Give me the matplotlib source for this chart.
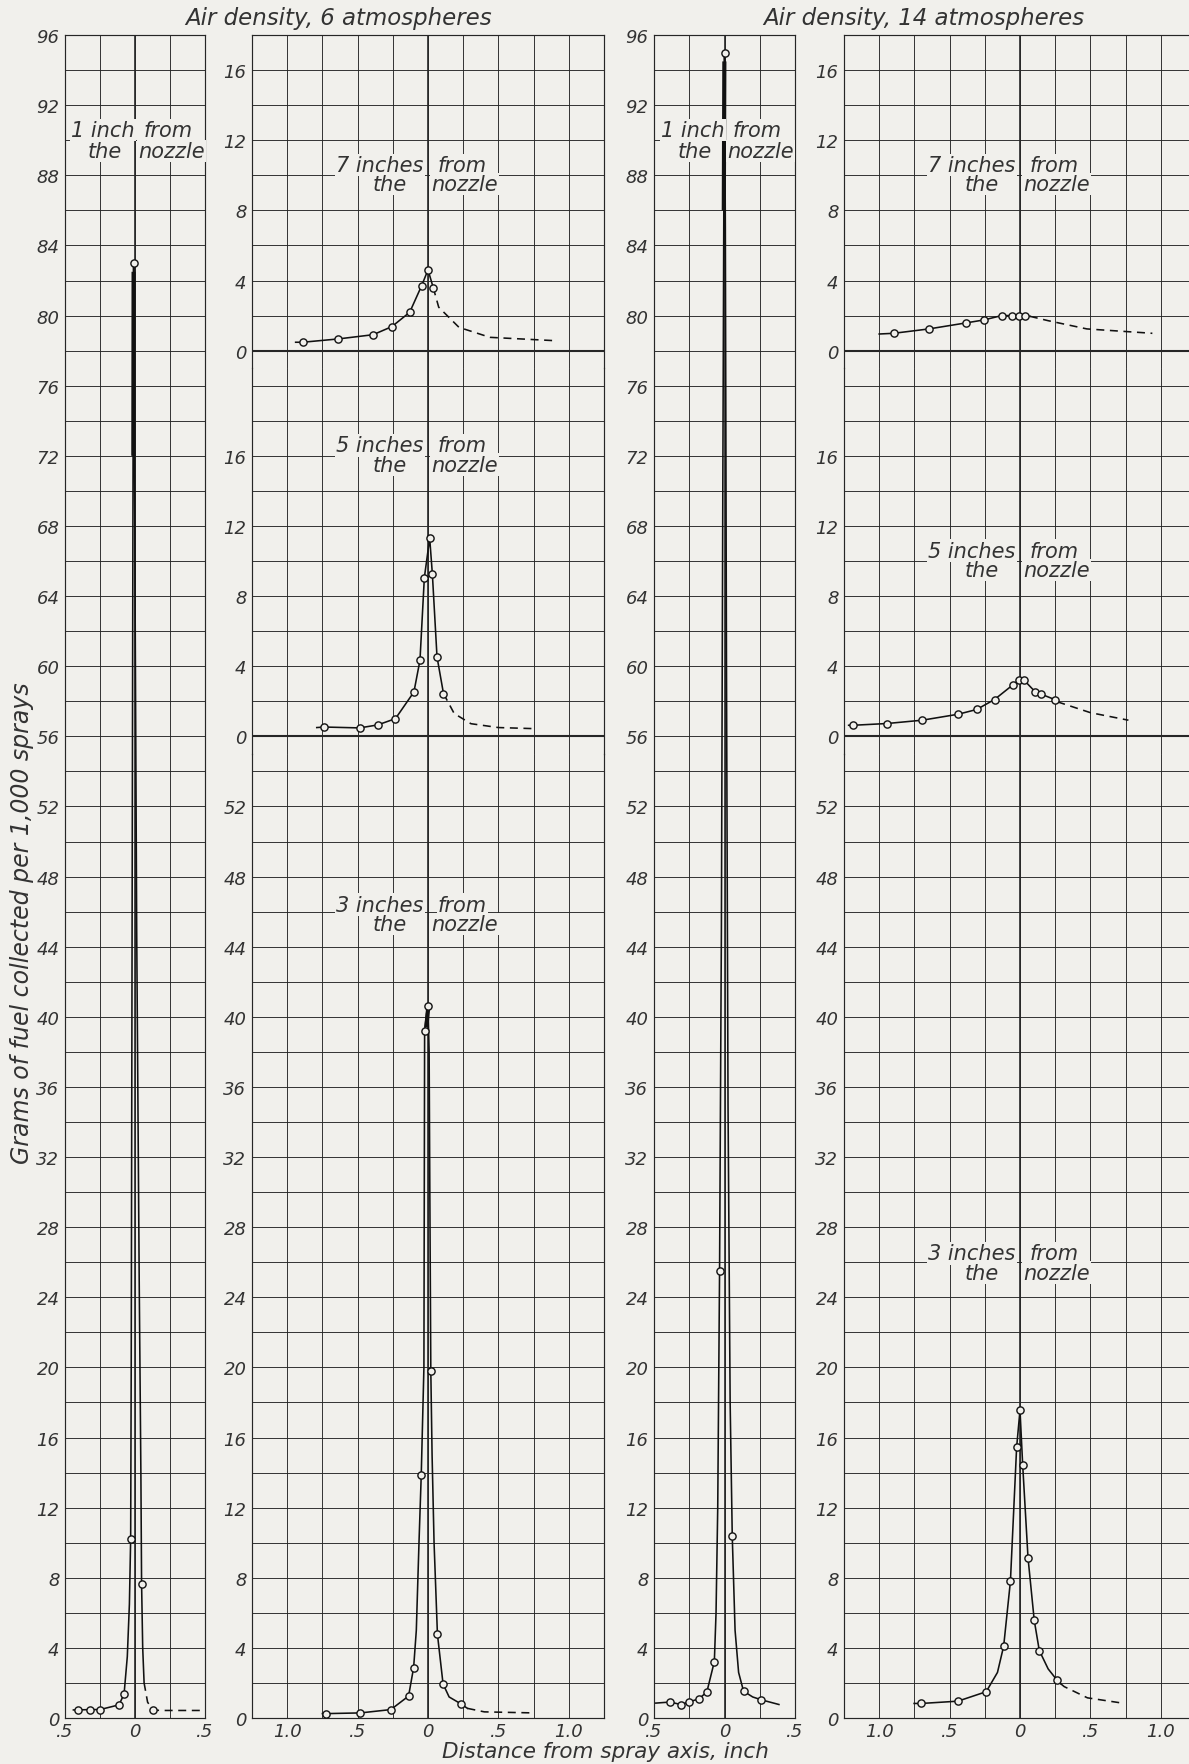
import numpy as np
import matplotlib
matplotlib.use('Agg')
import matplotlib.pyplot as plt

BG = '#f1f0ec'
INK = '#262626'
FONT = dict(family='DejaVu Sans', style='oblique', color='#333333')

# ---------------- data ----------------
# Air density 6 atm, 1 inch from nozzle
a1_x = [-0.41, -0.325, -0.25, -0.114, -0.078, -0.031, -0.01, 0.047, 0.13]
a1_y = [0.46, 0.48, 0.48, 0.75, 1.37, 10.2, 83.0, 7.67, 0.43]
a1_cx = [-0.44, -0.41, -0.325, -0.25, -0.114, -0.078, -0.055, -0.04, -0.031, -0.027,
         -0.022, -0.017, -0.013, -0.01, -0.006, 0.0, 0.012, 0.03, 0.042, 0.047, 0.055, 0.065]
a1_cy = [0.46, 0.46, 0.48, 0.48, 0.75, 1.37, 3.5, 6.5, 10.2, 20, 40, 60, 75, 83, 78,
         65, 45, 25, 14, 7.67, 4, 2]
a1_dx = [0.065, 0.09, 0.13, 0.2, 0.47]
a1_dy = [2, 0.9, 0.45, 0.43, 0.43]
a1_kx = [-0.012, -0.01]          # heavy inked ridge near the peak
a1_ky = [72, 82.5]

# 6 atm, 3 inches
a3_x = [-0.726, -0.48, -0.264, -0.138, -0.102, -0.048, -0.024, 0.0, 0.02, 0.067, 0.107, 0.233]
a3_y = [0.25, 0.29, 0.48, 1.25, 2.88, 13.85, 39.2, 40.6, 19.8, 4.77, 1.94, 0.81]
a3_cx = [-0.75, -0.726, -0.48, -0.264, -0.138, -0.102, -0.083, -0.064, -0.048, -0.029,
         -0.024, -0.01, 0.0, 0.008, 0.013, 0.02, 0.029, 0.043, 0.067, 0.107, 0.15, 0.233, 0.28]
a3_cy = [0.25, 0.25, 0.29, 0.48, 1.25, 2.88, 5, 10, 13.85, 20, 39.2, 40.2, 40.6, 38,
         30, 19.8, 15, 10, 4.77, 1.94, 1.2, 0.81, 0.55]
a3_dx = [0.28, 0.4, 0.75]
a3_dy = [0.55, 0.35, 0.29]
a3_kx = [-0.012, 0.0]
a3_ky = [39.4, 40.4]

# 6 atm, 5 inches
a5_x = [-0.738, -0.486, -0.357, -0.231, -0.1, -0.057, -0.026, 0.012, 0.031, 0.064, 0.11]
a5_y = [0.53, 0.48, 0.65, 1.01, 2.53, 4.34, 9.05, 11.3, 9.26, 4.53, 2.44]
a5_cx = [-0.79, -0.738, -0.486, -0.357, -0.231, -0.1, -0.057, -0.026, 0.012, 0.031, 0.064, 0.11]
a5_cy = [0.5, 0.53, 0.48, 0.65, 1.01, 2.53, 4.34, 9.05, 11.3, 9.26, 4.53, 2.44]
a5_dx = [0.11, 0.186, 0.305, 0.5, 0.745]
a5_dy = [2.44, 1.3, 0.72, 0.5, 0.44]

# 6 atm, 7 inches
a7_x = [-0.89, -0.636, -0.39, -0.257, -0.13, -0.045, 0.0, 0.037]
a7_y = [0.48, 0.67, 0.91, 1.37, 2.19, 3.71, 4.61, 3.6]
a7_cx = [-0.94, -0.89, -0.636, -0.39, -0.257, -0.13, -0.045, 0.0, 0.037]
a7_cy = [0.48, 0.48, 0.67, 0.91, 1.37, 2.19, 3.71, 4.61, 3.6]
a7_dx = [0.037, 0.076, 0.22, 0.44, 0.9]
a7_dy = [3.6, 2.48, 1.33, 0.76, 0.57]

# Air density 14 atm, 1 inch
b1_x = [-0.386, -0.31, -0.253, -0.18, -0.125, -0.072, -0.035, 0.0, 0.055, 0.135, 0.26]
b1_y = [0.91, 0.77, 0.91, 1.1, 1.49, 3.22, 25.5, 95.0, 10.37, 1.53, 1.04]
b1_cx = [-0.487, -0.386, -0.31, -0.253, -0.18, -0.125, -0.072, -0.06, -0.048, -0.035,
         -0.022, -0.012, -0.004, 0.0, 0.006, 0.014, 0.025, 0.04, 0.055, 0.075, 0.1,
         0.135, 0.2, 0.26, 0.386]
b1_cy = [0.85, 0.91, 0.77, 0.91, 1.1, 1.49, 3.22, 6, 12, 25.5, 45, 70, 88, 95, 85, 60,
         35, 18, 10.37, 5, 2.6, 1.53, 1.2, 1.04, 0.77]
b1_kx = [-0.005, -0.001]
b1_ky = [86, 94.5]

# 14 atm, 3 inches
b3_x = [-0.70, -0.441, -0.24, -0.116, -0.068, -0.024, 0.0, 0.019, 0.057, 0.101, 0.137, 0.262]
b3_y = [0.83, 0.96, 1.5, 4.1, 7.8, 15.44, 17.56, 14.44, 9.13, 5.58, 3.85, 2.17]
b3_cx = [-0.752, -0.70, -0.441, -0.24, -0.16, -0.116, -0.068, -0.024, 0.0, 0.019, 0.057,
         0.101, 0.137, 0.2, 0.262, 0.29]
b3_cy = [0.83, 0.83, 0.96, 1.5, 2.6, 4.1, 7.8, 15.44, 17.56, 14.44, 9.13, 5.58, 3.85,
         2.8, 2.17, 1.95]
b3_dx = [0.29, 0.314, 0.479, 0.743]
b3_dy = [1.95, 1.79, 1.15, 0.83]

# 14 atm, 5 inches
b5_x = [-1.186, -0.945, -0.694, -0.439, -0.308, -0.181, -0.053, -0.007, 0.029, 0.108, 0.152, 0.246]
b5_y = [0.63, 0.73, 0.92, 1.26, 1.53, 2.1, 2.92, 3.2, 3.2, 2.54, 2.4, 2.1]
b5_cx = [-1.217, -1.186, -0.945, -0.694, -0.439, -0.308, -0.181, -0.053, -0.007, 0.029,
         0.108, 0.152, 0.246, 0.265]
b5_cy = [0.63, 0.63, 0.73, 0.92, 1.26, 1.53, 2.1, 2.92, 3.2, 3.2, 2.54, 2.4, 2.1, 1.97]
b5_dx = [0.265, 0.5, 0.77]
b5_dy = [1.97, 1.35, 0.92]

# 14 atm, 7 inches
b7_x = [-0.897, -0.647, -0.386, -0.258, -0.13, -0.054, -0.008, 0.035]
b7_y = [0.99, 1.24, 1.58, 1.75, 2.0, 2.0, 2.0, 2.0]
b7_cx = [-1.0, -0.897, -0.647, -0.386, -0.258, -0.13, -0.054, -0.008, 0.035, 0.07]
b7_cy = [0.95, 0.99, 1.24, 1.58, 1.75, 2.0, 2.0, 2.0, 2.0, 1.96]
b7_dx = [0.07, 0.2, 0.475, 0.94]
b7_dy = [1.96, 1.71, 1.24, 0.99]

narrow_xticks = [-0.5, 0.0, 0.5]
narrow_xlabels = ['.5', '0', '.5']
wide_xticks = [-1.0, -0.5, 0.0, 0.5, 1.0]
wide_xlabels = ['1.0', '.5', '0', '.5', '1.0']
tall_yticks = list(range(0, 97, 4))
mid_yticks = list(range(0, 53, 4))
short_yticks = list(range(0, 17, 4))

# ---------------- layout ----------------
W, H = 1189, 1765
Y0, PU = 1719.0, 17.53

def rect(xl, xr, v0, v1):
    return [xl / W, (H - (Y0 - v0 * PU)) / H, (xr - xl) / W, (v1 - v0) * PU / H]

fig = plt.figure(figsize=(W / 100, H / 100), dpi=100, facecolor=BG)

def setup(ax, xlim, ylim, yticks, xticks=None, xlabels=None, spines=('left', 'right'),
          zero_bold=False):
    ax.set_facecolor('none')
    ax.set_xlim(*xlim)
    ax.set_ylim(*ylim)
    ax.set_xticks(np.arange(xlim[0], xlim[1] + 1e-6, 0.25), minor=True)
    lo = int(np.ceil(ylim[0] / 2.0) * 2)
    ax.set_yticks(np.arange(max(lo, 0), ylim[1] + 1e-6, 2), minor=True)
    ax.set_yticks(yticks)
    ax.set_yticklabels([str(v) for v in yticks], **FONT, fontsize=13)
    if xticks is not None:
        ax.set_xticks(xticks)
        ax.set_xticklabels(xlabels, **FONT, fontsize=13)
    else:
        ax.set_xticks([0.0])
        ax.set_xticklabels([])
    ax.tick_params(which='both', length=0, pad=4)
    ax.tick_params(axis='x', pad=3)
    ax.grid(True, which='both', color=INK, lw=0.65)
    for s in ['left', 'right', 'top', 'bottom']:
        ax.spines[s].set_visible(s in spines)
        ax.spines[s].set_color(INK)
        ax.spines[s].set_linewidth(0.85)
    ax.axvline(0, color=INK, lw=1.2, zorder=2)
    if zero_bold:
        ax.axhline(0, color=INK, lw=1.5, zorder=2)
    ax.set_axisbelow(True)

def draw(ax, cx, cy, mx, my, dx=None, dy=None, kx=None, ky=None):
    ax.plot(cx, cy, color='#111111', lw=1.15, zorder=3, solid_joinstyle='round')
    if dx is not None:
        ax.plot(dx, dy, color='#111111', lw=1.15, ls=(0, (5, 3.5)), zorder=3)
    if kx is not None:
        ax.plot(kx, ky, color='#111111', lw=3.0, zorder=3, solid_capstyle='butt')
    ax.plot(mx, my, ls='none', marker='o', ms=5.2, mfc=BG, mec='#111111', mew=1.0,
            zorder=4, clip_on=False)

def label(ax, y1, y2, left1, g):
    kw = dict(**FONT, fontsize=15, va='center', zorder=5,
              bbox=dict(boxstyle='square,pad=0.06', fc=BG, ec='none'), clip_on=False)
    ax.text(-g[0], y1, left1, ha='right', **kw)
    ax.text(g[1], y1, 'from', ha='left', **kw)
    ax.text(-g[2], y2, 'the', ha='right', **kw)
    ax.text(g[3], y2, 'nozzle', ha='left', **kw)

# Column A: 6 atm, 1 inch
axA = fig.add_axes(rect(65, 205, 0, 96))
setup(axA, (-0.5, 0.5), (0, 96), tall_yticks, narrow_xticks, narrow_xlabels,
      spines=('left', 'right', 'top', 'bottom'))
draw(axA, a1_cx, a1_cy, a1_x, a1_y, a1_dx, a1_dy, a1_kx, a1_ky)
label(axA, 90.6, 89.4, '1 inch', (0.0, 0.06, 0.09, 0.02))

# Column B: 6 atm, 3/5/7 inches
axB3 = fig.add_axes(rect(252, 604, 0, 55))
setup(axB3, (-1.25, 1.25), (0, 55), mid_yticks, wide_xticks, wide_xlabels,
      spines=('left', 'right', 'bottom'))
draw(axB3, a3_cx, a3_cy, a3_x, a3_y, a3_dx, a3_dy, a3_kx, a3_ky)
label(axB3, 46.4, 45.3, '3 inches', (0.03, 0.07, 0.15, 0.02))

axB5 = fig.add_axes(rect(252, 604, 55, 77))
setup(axB5, (-1.25, 1.25), (-1, 21), short_yticks, zero_bold=True)
draw(axB5, a5_cx, a5_cy, a5_x, a5_y, a5_dx, a5_dy)
label(axB5, 16.6, 15.5, '5 inches', (0.03, 0.07, 0.15, 0.02))

axB7 = fig.add_axes(rect(252, 604, 77, 96))
setup(axB7, (-1.25, 1.25), (-1, 18), short_yticks, spines=('left', 'right', 'top'),
      zero_bold=True)
draw(axB7, a7_cx, a7_cy, a7_x, a7_y, a7_dx, a7_dy)
label(axB7, 10.6, 9.5, '7 inches', (0.03, 0.07, 0.15, 0.02))

# Column C: 14 atm, 1 inch
axC = fig.add_axes(rect(654, 795, 0, 96))
setup(axC, (-0.5, 0.5), (0, 96), tall_yticks, narrow_xticks, narrow_xlabels,
      spines=('left', 'right', 'top', 'bottom'))
draw(axC, b1_cx, b1_cy, b1_x, b1_y, kx=b1_kx, ky=b1_ky)
label(axC, 90.6, 89.4, '1 inch', (0.0, 0.06, 0.09, 0.02))

# Column D: 14 atm, 3/5/7 inches
axD3 = fig.add_axes(rect(844, 1196, 0, 55))
setup(axD3, (-1.25, 1.25), (0, 55), mid_yticks, wide_xticks, wide_xlabels,
      spines=('left', 'right', 'bottom'))
draw(axD3, b3_cx, b3_cy, b3_x, b3_y, b3_dx, b3_dy)
label(axD3, 26.5, 25.4, '3 inches', (0.03, 0.07, 0.15, 0.02))

axD5 = fig.add_axes(rect(844, 1196, 55, 77))
setup(axD5, (-1.25, 1.25), (-1, 21), short_yticks, zero_bold=True)
draw(axD5, b5_cx, b5_cy, b5_x, b5_y, b5_dx, b5_dy)
label(axD5, 10.6, 9.5, '5 inches', (0.03, 0.07, 0.15, 0.02))

axD7 = fig.add_axes(rect(844, 1196, 77, 96))
setup(axD7, (-1.25, 1.25), (-1, 18), short_yticks, spines=('left', 'right', 'top'),
      zero_bold=True)
draw(axD7, b7_cx, b7_cy, b7_x, b7_y, b7_dx, b7_dy)
label(axD7, 10.6, 9.5, '7 inches', (0.03, 0.07, 0.15, 0.02))

# Figure texts
fig.text(339 / W, 1 - 19 / H, 'Air density, 6 atmospheres', ha='center', va='center',
         fontsize=16.5, **FONT)
fig.text(924 / W, 1 - 19 / H, 'Air density, 14 atmospheres', ha='center', va='center',
         fontsize=16.5, **FONT)
fig.text(22 / W, 1 - 923 / H, 'Grams of fuel collected per 1,000 sprays', rotation=90,
         ha='center', va='center', fontsize=17, **FONT)
fig.text(605 / W, 3 / H, 'Distance from spray axis, inch', ha='center',
         va='bottom', fontsize=15.5, **FONT)

fig.savefig('out.png', dpi=100, facecolor=BG)
